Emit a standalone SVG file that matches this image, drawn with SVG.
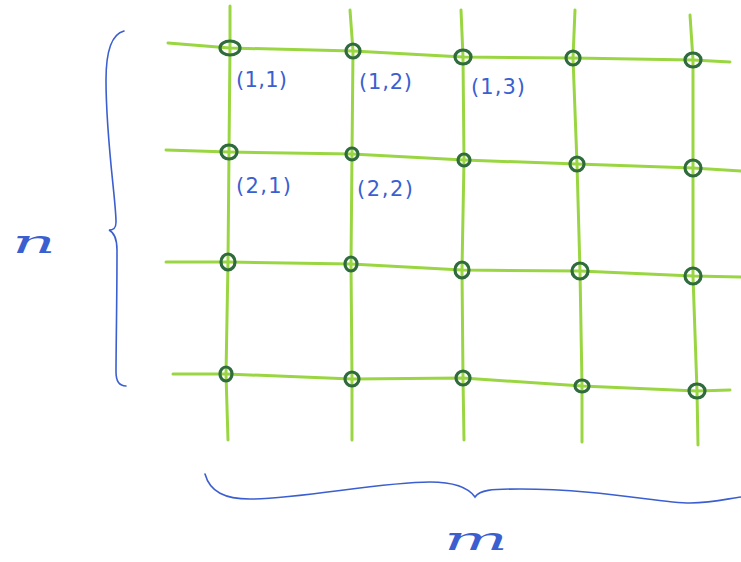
<svg xmlns="http://www.w3.org/2000/svg" width="741" height="562" viewBox="0 0 741 562">
<style>
.ln{fill:none;stroke:#9ad642;stroke-width:3;stroke-linecap:round;stroke-linejoin:round}
.nd{fill:none;stroke:#2f6b3c;stroke-width:3.2}
.lb{font-family:"DejaVu Sans","Liberation Sans",sans-serif;font-size:21px;fill:#3b5fd0}
.br{fill:none;stroke:#3b5fd0;stroke-width:1.6;stroke-linecap:round}
.hw{font-family:"DejaVu Serif","Liberation Serif",serif;font-style:italic;font-size:32px;fill:#3b5fd0}
</style>
<rect width="741" height="562" fill="#fff"/>
<g id="connectors">
<polyline class="ln" points="168,43 230,48 353,51 463,57 573,58 693,60 730,62"/>
<polyline class="ln" points="166,150 229,152 352,154 464,160 577,164 693,168 741,171"/>
<polyline class="ln" points="166,262 228,262 351,264 462,270 580,271 693,276 741,277"/>
<polyline class="ln" points="173,374 226,374 352,379 463,378 582,386 697,391 730,390"/>
<polyline class="ln" points="230,6 230,48 229,152 228,262 226,374 228,440"/>
<polyline class="ln" points="350,10 353,51 352,154 351,264 352,379 352,440"/>
<polyline class="ln" points="461,10 463,57 464,160 462,270 463,378 464,440"/>
<polyline class="ln" points="575,10 573,58 577,164 580,271 582,386 582,442"/>
<polyline class="ln" points="690,15 693,60 693,168 693,276 697,391 698,445"/>
</g>
<g id="n11"><ellipse class="nd" cx="230" cy="48" rx="10" ry="7"/></g>
<g id="n12"><ellipse class="nd" cx="353" cy="51" rx="7" ry="7"/></g>
<g id="n13"><ellipse class="nd" cx="463" cy="57" rx="8" ry="7"/></g>
<g id="n14"><ellipse class="nd" cx="573" cy="58" rx="7" ry="7"/></g>
<g id="n15"><ellipse class="nd" cx="693" cy="60" rx="8" ry="7"/></g>
<g id="n21"><ellipse class="nd" cx="229" cy="152" rx="8" ry="7"/></g>
<g id="n22"><ellipse class="nd" cx="352" cy="154" rx="6" ry="6"/></g>
<g id="n23"><ellipse class="nd" cx="464" cy="160" rx="6" ry="6"/></g>
<g id="n24"><ellipse class="nd" cx="577" cy="164" rx="7" ry="7"/></g>
<g id="n25"><ellipse class="nd" cx="693" cy="168" rx="8" ry="8"/></g>
<g id="n31"><ellipse class="nd" cx="228" cy="262" rx="7" ry="8"/></g>
<g id="n32"><ellipse class="nd" cx="351" cy="264" rx="6" ry="7"/></g>
<g id="n33"><ellipse class="nd" cx="462" cy="270" rx="7" ry="8"/></g>
<g id="n34"><ellipse class="nd" cx="580" cy="271" rx="8" ry="8"/></g>
<g id="n35"><ellipse class="nd" cx="693" cy="276" rx="8" ry="8"/></g>
<g id="n41"><ellipse class="nd" cx="226" cy="374" rx="6" ry="7"/></g>
<g id="n42"><ellipse class="nd" cx="352" cy="379" rx="7" ry="7"/></g>
<g id="n43"><ellipse class="nd" cx="463" cy="378" rx="7" ry="7"/></g>
<g id="n44"><ellipse class="nd" cx="582" cy="386" rx="7" ry="6"/></g>
<g id="n45"><ellipse class="nd" cx="697" cy="391" rx="8" ry="7"/></g>
<g id="labels">
<text class="lb" x="236" y="87" textLength="51">(1,1)</text>
<text class="lb" x="359" y="89" textLength="53">(1,2)</text>
<text class="lb" x="471" y="94" textLength="54">(1,3)</text>
<text class="lb" x="236" y="193" textLength="55">(2,1)</text>
<text class="lb" x="357" y="196" textLength="56">(2,2)</text>
</g>
<g id="braces">
<path class="br" d="M124,31 C112,34 106,50 106,80 C106,140 116,200 116,222 C116,229 113,230 109,230 C113,232 117,236 117,250 C117,300 116,350 116,372 C116,382 120,386 126,386"/>
<path class="br" d="M205,474 C210,492 225,499 250,499 C300,499 380,482 430,482 C460,482 470,490 475,497 C480,490 490,489 520,489 C600,489 660,503 690,503 C715,503 730,498 741,497"/>
<text class="hw" x="12" y="253" textLength="44" lengthAdjust="spacingAndGlyphs">n</text>
<text class="hw" x="444" y="550" textLength="64" lengthAdjust="spacingAndGlyphs">m</text>
</g>
</svg>
